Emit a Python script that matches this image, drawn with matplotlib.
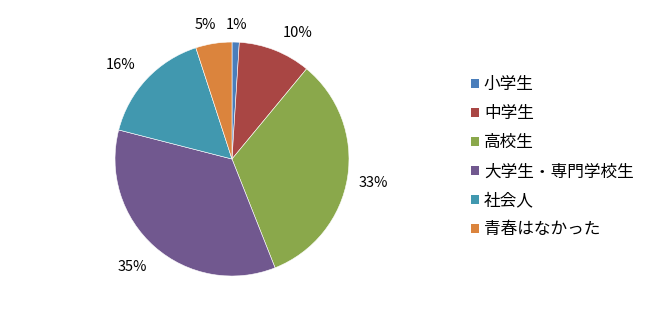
import matplotlib.pyplot as plt
from matplotlib.patches import Patch

plt.rcParams['font.family'] = ['Noto Sans CJK JP', 'DejaVu Sans']

labels = ["小学生", "中学生", "高校生", "大学生・専門学校生", "社会人", "青春はなかった"]
values = [1, 10, 33, 35, 16, 5]
colors = ["#4A7EBB", "#A94644", "#8AA84B", "#71588F", "#4198AF", "#DB843D"]

# where Excel put the percentage labels (pie radius = 1)
label_pos = [(0.04, 1.145), (0.56, 1.08), (1.205, -0.205),
             (-0.855, -0.925), (-0.955, 0.805), (-0.23, 1.145)]

fig = plt.figure(figsize=(6.62, 3.18), dpi=100)
ax = fig.add_axes([0.1737, 0.132, 0.3535, 0.7358])

wedges, texts, autotexts = ax.pie(
    values, colors=colors, startangle=90, counterclock=False,
    autopct=lambda p: f"{p:.0f}%", pctdistance=1.22,
    wedgeprops=dict(edgecolor="white", linewidth=0.4),
    textprops=dict(fontsize=10.5, color="black"))
for t, (x, y) in zip(autotexts, label_pos):
    t.set_position((x, y))
ax.set_xlim(-1, 1)
ax.set_ylim(-1, 1)
ax.set_aspect("equal")

handles = [Patch(facecolor=c, edgecolor="none") for c in colors]
fig.legend(handles, labels, loc="upper left", bbox_to_anchor=(0.702, 0.781),
           frameon=False, fontsize=12, handlelength=0.45, handleheight=0.45,
           handletextpad=0.3, labelspacing=0.72, borderaxespad=0)

fig.savefig("out.png", dpi=100)
